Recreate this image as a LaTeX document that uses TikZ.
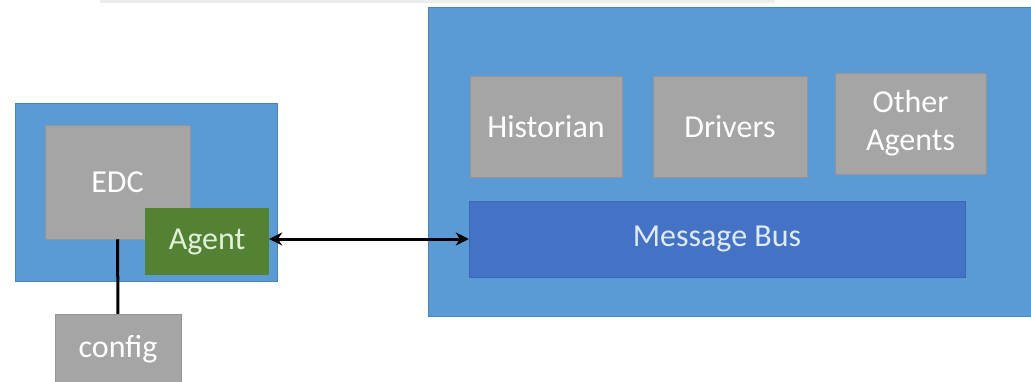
\documentclass[tikz,border=0pt]{standalone}
\usepackage{fontspec}
\setmainfont{Carlito}
\usetikzlibrary{arrows.meta}
\definecolor{panelblue}{HTML}{5B9BD5}
\definecolor{boxgray}{HTML}{A5A5A5}
\definecolor{agentgreen}{HTML}{548235}
\definecolor{busblue}{HTML}{4472C4}
\definecolor{agenttext}{HTML}{E2F0D9}
\definecolor{bustext}{HTML}{DEEBF7}
\tikzset{
  panel/.style={fill=panelblue, draw=panelblue!85!black, line width=0.6pt},
  graybox/.style={rectangle, fill=boxgray, draw=boxgray!90!black, line width=0.5pt, text=white, align=center,
    font=\fontsize{32}{38}\selectfont, inner sep=0pt},
  agentbox/.style={rectangle, fill=agentgreen, text=agenttext, inner sep=0pt,
    font=\fontsize{32}{38}\selectfont},
  busbox/.style={rectangle, fill=busblue, draw=busblue!90!black, line width=0.5pt, text=bustext, inner sep=0pt,
    font=\fontsize{32}{38}\selectfont},
  link/.style={line width=3pt, black},
  biarrow/.style={line width=3pt, black, {Stealth[length=13pt,width=13pt]}-{Stealth[length=13pt,width=13pt]}}
}
\begin{document}
\begin{tikzpicture}[x=1pt,y=-1pt]
\useasboundingbox (0,0) rectangle (1031,381);
\fill[black!7] (100,0) rectangle (775,3);
% panels
\draw[panel] (15,103) rectangle (277,281);
\draw[panel] (428,7) rectangle (1035,316);
% left side
\node[graybox, minimum width=145pt, minimum height=114pt] (edc) at (117.5,182) {EDC};
\node[agentbox, minimum width=124pt, minimum height=67pt] (agent) at (207,241.5) {Agent};
\node[graybox, minimum width=126pt, minimum height=70pt] (config) at (118,349) {config};
% right side
\node[graybox, minimum width=152pt, minimum height=101pt] (hist) at (546,126.5) {Historian};
\node[graybox, minimum width=154pt, minimum height=101pt] (drv) at (730,126.5) {Drivers};
\node[graybox, minimum width=151pt, minimum height=101pt] (other) at (910.5,123.5) {Other\\Agents};
\node[busbox, minimum width=496pt, minimum height=76pt] (bus) at (717,239) {Message Bus};
% connectors
\draw[link] (edc.south) -- (config.north);
\draw[biarrow] (agent.east |- bus.west) -- (bus.west);
\end{tikzpicture}
\end{document}
